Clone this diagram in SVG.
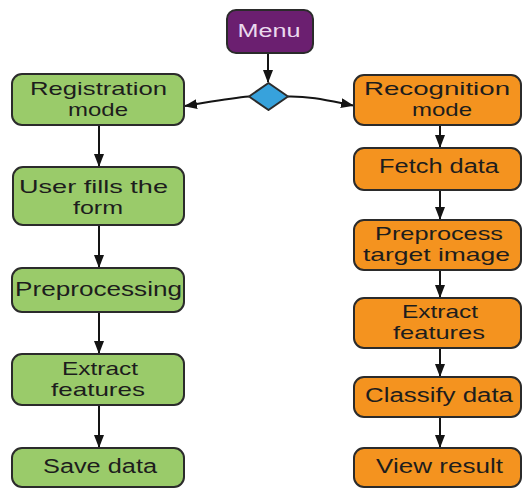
<svg xmlns="http://www.w3.org/2000/svg" width="522" height="488" viewBox="0 0 522 488">
<style>
.box{stroke:#2b2b2b;stroke-width:2}
.g{fill:#9acb6a}
.o{fill:#f4931f}
.p{fill:#6b1f70}
.t{font-family:"Liberation Sans",Arial,sans-serif;font-size:18.5px;fill:#1d1d1d;text-anchor:middle}
.s{font-size:20px}
.m{font-family:"Liberation Sans",Arial,sans-serif;font-size:18px;fill:#ead9ee;text-anchor:middle}
.c{fill:none;stroke:#141414;stroke-width:2}
</style>
<defs>
<marker id="ah" markerWidth="13" markerHeight="10" refX="12" refY="5" orient="auto" markerUnits="userSpaceOnUse">
<path d="M0,0 L13,5 L0,10 Z" fill="#141414"/>
</marker>
</defs>
<rect width="522" height="488" fill="#ffffff"/>
<g id="connectors">
<line class="c" x1="268" y1="53" x2="268" y2="82" marker-end="url(#ah)"/>
<path class="c" d="M249,96.5 C230,98 210,102 185,106" marker-end="url(#ah)"/>
<path class="c" d="M288,96.5 C310,96 330,101 353,105.5" marker-end="url(#ah)"/>
<line class="c" x1="99" y1="125" x2="99" y2="166" marker-end="url(#ah)"/>
<line class="c" x1="99" y1="225" x2="99" y2="267" marker-end="url(#ah)"/>
<line class="c" x1="99" y1="312" x2="99" y2="353" marker-end="url(#ah)"/>
<line class="c" x1="99" y1="405" x2="99" y2="447" marker-end="url(#ah)"/>
<line class="c" x1="440" y1="125" x2="440" y2="147" marker-end="url(#ah)"/>
<line class="c" x1="440" y1="190" x2="440" y2="219" marker-end="url(#ah)"/>
<line class="c" x1="440" y1="270" x2="440" y2="297" marker-end="url(#ah)"/>
<line class="c" x1="440" y1="348" x2="440" y2="376" marker-end="url(#ah)"/>
<line class="c" x1="440" y1="417" x2="440" y2="447" marker-end="url(#ah)"/>
</g>
<g id="menu">
<rect class="box p" x="227" y="10" width="86" height="43" rx="9"/>
<text class="m" x="269" y="37" textLength="63" lengthAdjust="spacingAndGlyphs">Menu</text>
</g>
<g id="decision">
<path d="M268.5,83 L288,96.5 L268.5,110 L249,96.5 Z" fill="#37a2dc" stroke="#2b2b2b" stroke-width="2" stroke-linejoin="round"/>
</g>
<g id="registration">
<rect class="box g" x="12" y="74" width="172" height="51" rx="10"/>
<text class="t" x="98.5" y="95" textLength="137" lengthAdjust="spacingAndGlyphs">Registration</text>
<text class="t" x="98" y="116" textLength="60" lengthAdjust="spacingAndGlyphs">mode</text>
</g>
<g id="userform">
<rect class="box g" x="13" y="167" width="171" height="58" rx="10"/>
<text class="t" x="93.5" y="193" textLength="149" lengthAdjust="spacingAndGlyphs">User fills the</text>
<text class="t" x="98" y="214" textLength="50" lengthAdjust="spacingAndGlyphs">form</text>
</g>
<g id="preprocessing">
<rect class="box g" x="12" y="268" width="172" height="44" rx="10"/>
<text class="t s" x="98.5" y="296" textLength="167" lengthAdjust="spacingAndGlyphs">Preprocessing</text>
</g>
<g id="extract-left">
<rect class="box g" x="12" y="354" width="172" height="51" rx="10"/>
<text class="t" x="100" y="375" textLength="76" lengthAdjust="spacingAndGlyphs">Extract</text>
<text class="t" x="98" y="396" textLength="94" lengthAdjust="spacingAndGlyphs">features</text>
</g>
<g id="save">
<rect class="box g" x="12" y="448" width="172" height="39" rx="10"/>
<text class="t s" x="100" y="473" textLength="114" lengthAdjust="spacingAndGlyphs">Save data</text>
</g>
<g id="recognition">
<rect class="box o" x="354" y="75" width="167" height="50" rx="10"/>
<text class="t" x="437" y="95" textLength="146" lengthAdjust="spacingAndGlyphs">Recognition</text>
<text class="t" x="442" y="116" textLength="60" lengthAdjust="spacingAndGlyphs">mode</text>
</g>
<g id="fetch">
<rect class="box o" x="354" y="148" width="167" height="42" rx="10"/>
<text class="t s" x="439" y="173" textLength="120" lengthAdjust="spacingAndGlyphs">Fetch data</text>
</g>
<g id="preprocess-target">
<rect class="box o" x="354" y="220" width="167" height="50" rx="10"/>
<text class="t" x="439" y="240" textLength="128" lengthAdjust="spacingAndGlyphs">Preprocess</text>
<text class="t" x="436.5" y="261" textLength="147" lengthAdjust="spacingAndGlyphs">target image</text>
</g>
<g id="extract-right">
<rect class="box o" x="354" y="298" width="167" height="50" rx="10"/>
<text class="t" x="440" y="318" textLength="76" lengthAdjust="spacingAndGlyphs">Extract</text>
<text class="t" x="439" y="339" textLength="92" lengthAdjust="spacingAndGlyphs">features</text>
</g>
<g id="classify">
<rect class="box o" x="354" y="377" width="167" height="40" rx="10"/>
<text class="t s" x="439" y="402" textLength="148" lengthAdjust="spacingAndGlyphs">Classify data</text>
</g>
<g id="view">
<rect class="box o" x="354" y="448" width="167" height="39" rx="10"/>
<text class="t s" x="439.5" y="473" textLength="127" lengthAdjust="spacingAndGlyphs">View result</text>
</g>
</svg>
